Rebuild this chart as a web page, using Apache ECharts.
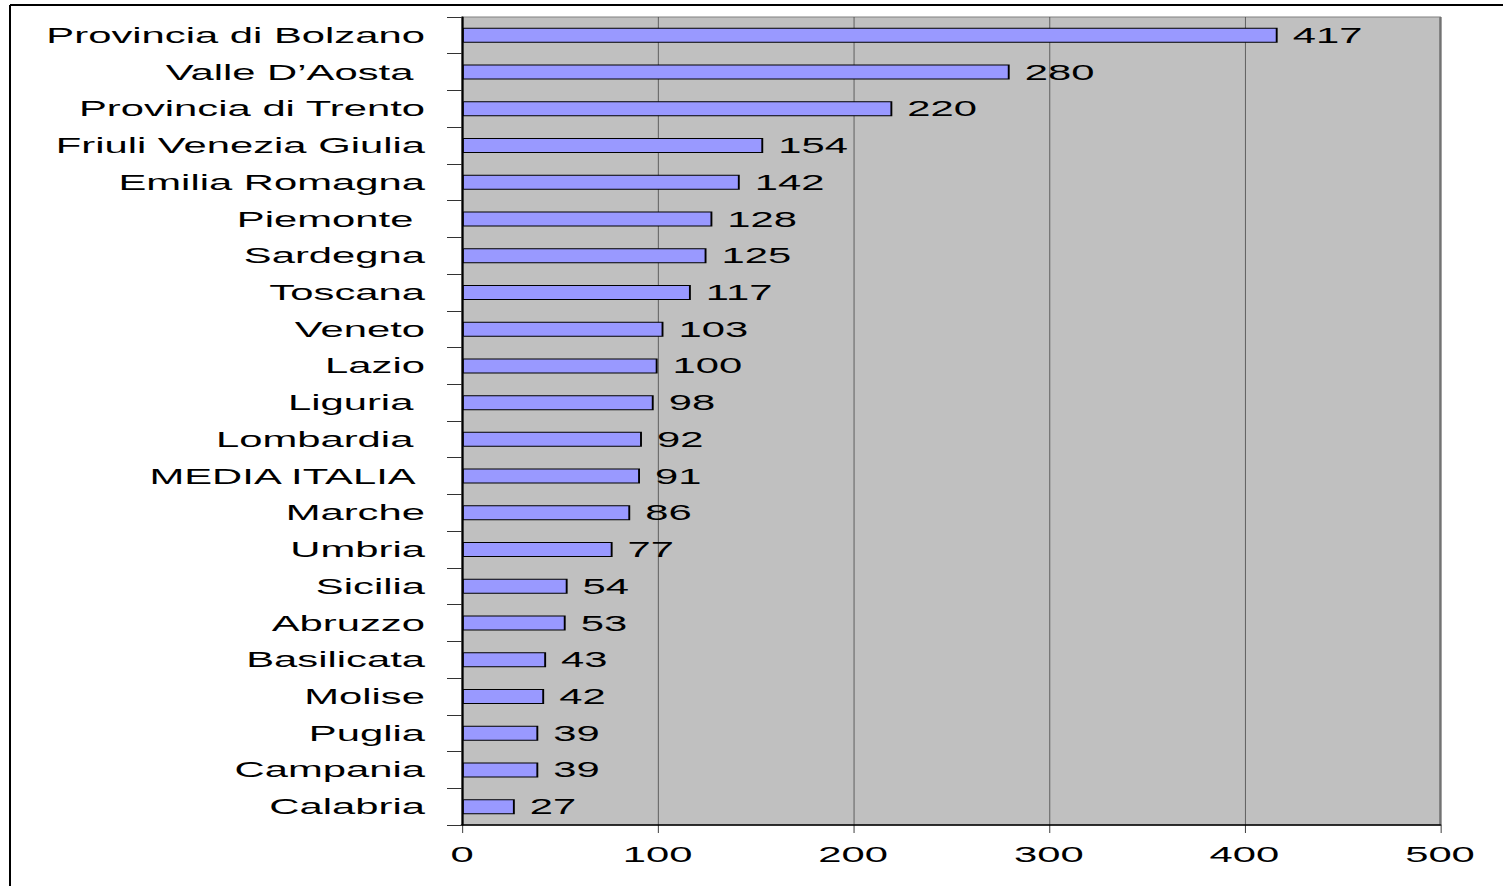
<!DOCTYPE html>
<html>
<head>
<meta charset="utf-8">
<script src="https://cdn.jsdelivr.net/npm/echarts@6/dist/echarts.min.js"></script>
<style>
  html, body { margin: 0; padding: 0; background: #fff; overflow: hidden; }
  #wrap { width: 1503px; height: 886px; overflow: hidden; position: relative; }
  /* the original chart is horizontally stretched: draw narrower, then stretch */
  #chart { width: 791.05px; height: 886px; transform: scaleX(1.9); transform-origin: 0 0; }
  #chart svg text { white-space: pre; }
</style>
</head>
<body>
<div id="wrap"><div id="chart"></div></div>
<script>
const categories = [
  "Provincia di Bolzano", "Valle D’Aosta ", "Provincia di Trento", "Friuli Venezia Giulia",
  "Emilia Romagna", "Piemonte ", "Sardegna", "Toscana", "Veneto", "Lazio", "Liguria ",
  "Lombardia ", "MEDIA ITALIA ", "Marche", "Umbria", "Sicilia", "Abruzzo", "Basilicata",
  "Molise", "Puglia", "Campania", "Calabria"
];
const values = [417, 280, 220, 154, 142, 128, 125, 117, 103, 100, 98, 92, 91, 86, 77, 54, 53, 43, 42, 39, 39, 27];
const xTicks = [0, 100, 200, 300, 400, 500];

const S = 1.9; // horizontal stretch
const chart = echarts.init(document.getElementById('chart'), null, { renderer: 'svg' });
const font = 'Arial, "Liberation Sans", sans-serif';
chart.setOption({
  animation: false,
  backgroundColor: '#ffffff',
  graphic: [
    { type: 'line', shape: { x1: 10 / S, y1: 5, x2: 1600 / S, y2: 5 },
      style: { stroke: '#000', lineWidth: 2 }, z: 100 },
    { type: 'line', shape: { x1: 10 / S, y1: 5, x2: 10 / S, y2: 900 },
      style: { stroke: '#000', lineWidth: 2 / S }, z: 100 }
  ],
  grid: {
    left: 462 / S, top: 17, width: 978 / S, height: 808,
    show: true, backgroundColor: '#c0c0c0', borderColor: '#808080', borderWidth: 1,
    containLabel: false
  },
  xAxis: {
    type: 'value', min: xTicks[0], max: xTicks[xTicks.length - 1], interval: 100,
    axisLine: { show: true, lineStyle: { color: '#000', width: 1.5 } },
    axisTick: { show: true, length: 8, lineStyle: { color: '#000', width: 1 / S } },
    splitLine: { show: true, lineStyle: { color: '#404040', width: 1 / S } },
    axisLabel: {
      margin: 18, color: '#000', fontSize: 22, fontFamily: font,
      formatter: v => String(v)
    }
  },
  yAxis: {
    type: 'category', data: categories, inverse: true,
    axisLine: { show: true, lineStyle: { color: '#000', width: 2 / S } },
    axisTick: { show: true, length: 15 / S, lineStyle: { color: '#333' } },
    axisLabel: { margin: 37 / S, color: '#000', fontSize: 22, fontFamily: font },
    splitLine: { show: false }
  },
  series: [{
    type: 'bar', data: values, barWidth: 15,
    itemStyle: { color: '#9999ff', borderColor: '#000', borderWidth: 1 },
    label: {
      show: true, position: 'right', distance: 15 / S, color: '#000',
      fontSize: 22, fontFamily: font
    }
  }]
});
</script>
</body>
</html>
